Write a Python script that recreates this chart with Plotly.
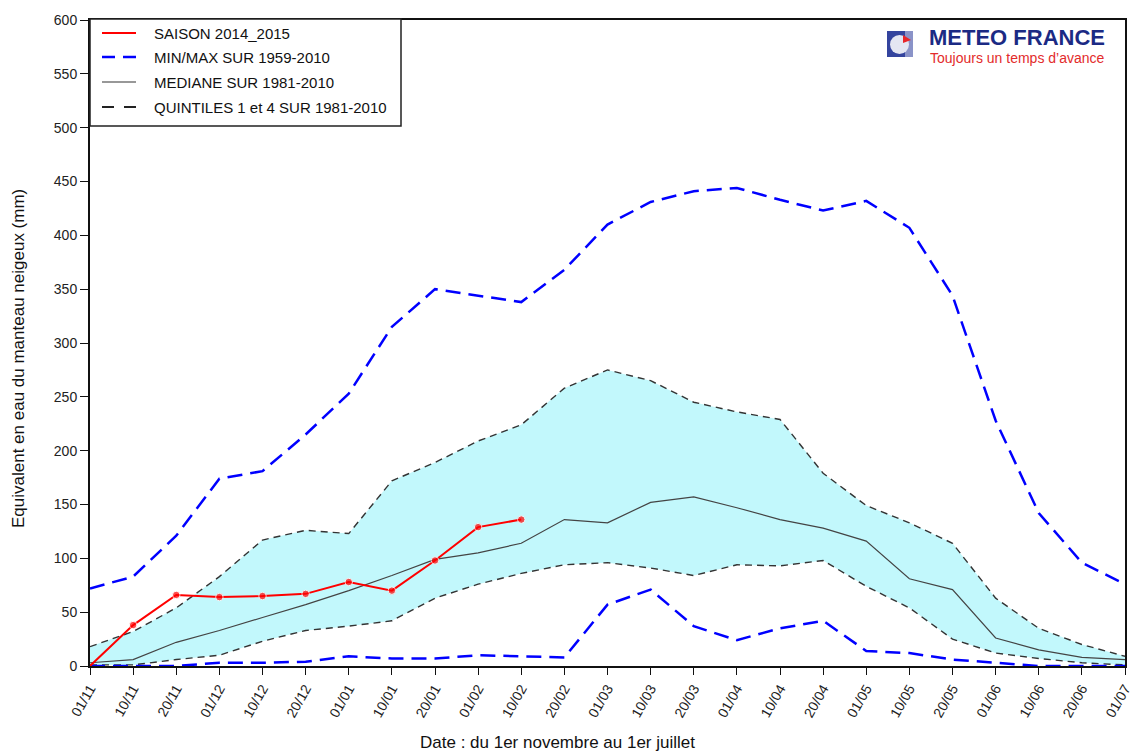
import plotly.graph_objects as go

dates = ["01/11", "10/11", "20/11", "01/12", "10/12", "20/12", "01/01", "10/01", "20/01",
         "01/02", "10/02", "20/02", "01/03", "10/03", "20/03", "01/04", "10/04", "20/04",
         "01/05", "10/05", "20/05", "01/06", "10/06", "20/06", "01/07"]

max_1959_2010 = [72, 83, 121, 174, 181, 215, 253, 315, 350, 344, 338, 368, 410, 431, 441,
                 444, 433, 423, 432, 407, 344, 228, 142, 96, 76]
min_1959_2010 = [0, 0, 0, 3, 3, 4, 9, 7, 7, 10, 9, 8, 57, 71, 37, 24, 35, 42, 14, 12, 6, 3,
                 0, 0, 0]
median_1981_2010 = [3, 6, 22, 33, 45, 57, 70, 84, 99, 105, 114, 136, 133, 152, 157, 147, 136,
                    128, 116, 81, 71, 26, 15, 8, 6]
quintile1 = [1, 1, 6, 10, 23, 33, 37, 42, 63, 76, 86, 94, 96, 91, 84, 94, 93, 98, 74, 54, 25,
             12, 7, 3, 1]
quintile4 = [18, 32, 54, 83, 117, 126, 123, 172, 189, 209, 224, 258, 275, 265, 245, 236, 229,
             179, 149, 133, 114, 63, 35, 20, 9]
saison_2014_2015 = [0, 38, 66, 64, 65, 67, 78, 70, 98, 129, 136]

legend_labels = ["SAISON 2014_2015", "MIN/MAX SUR 1959-2010", "MEDIANE SUR 1981-2010",
                 "QUINTILES 1 et 4 SUR 1981-2010"]

x = list(range(len(dates)))
FONT = "Liberation Sans, Arial, Helvetica, sans-serif"

# plot area in pixels
L, R, T, B = 90, 1125, 20, 666
W, H = R - L, B - T


def px(xp):
    return (xp - L) / W


def py(yp):
    return (B - yp) / H


fig = go.Figure()

# quintile band
fig.add_trace(go.Scatter(x=x, y=quintile1, mode="lines",
                         line=dict(color="#333333", width=1.4, dash="7px,5px"),
                         showlegend=False, hoverinfo="skip"))
fig.add_trace(go.Scatter(x=x, y=quintile4, mode="lines", fill="tonexty",
                         fillcolor="#c2f8fc",
                         line=dict(color="#333333", width=1.4, dash="7px,5px"),
                         showlegend=False, hoverinfo="skip"))
# median
fig.add_trace(go.Scatter(x=x, y=median_1981_2010, mode="lines",
                         line=dict(color="#444444", width=1.2), showlegend=False))
# min / max
fig.add_trace(go.Scatter(x=x, y=max_1959_2010, mode="lines",
                         line=dict(color="#0000ff", width=2.5, dash="15px,8px"),
                         showlegend=False))
fig.add_trace(go.Scatter(x=x, y=min_1959_2010, mode="lines",
                         line=dict(color="#0000ff", width=2.5, dash="15px,8px"),
                         showlegend=False))
# season
fig.add_trace(go.Scatter(x=x[:len(saison_2014_2015)], y=saison_2014_2015,
                         mode="lines+markers",
                         line=dict(color="#ff0000", width=2),
                         marker=dict(color="#ff0000",
                                     size=[0] + [7.5] * (len(saison_2014_2015) - 1)),
                         showlegend=False, cliponaxis=True))

shapes = []
annotations = []

# manual legend
shapes.append(dict(type="rect", xref="paper", yref="paper",
                   x0=px(90), x1=px(401), y0=py(126), y1=py(19),
                   line=dict(color="#222222", width=1.5), fillcolor="white", layer="above"))
leg_styles = [
    dict(color="#ff0000", width=2),
    dict(color="#0000ff", width=2.5, dash="13px,8px"),
    dict(color="#333333", width=1.2),
    dict(color="#222222", width=1.8, dash="12px,10px"),
]
rows = [33, 57, 82, 107]
for lab, st, ry in zip(legend_labels, leg_styles, rows):
    shapes.append(dict(type="line", xref="paper", yref="paper",
                       x0=px(102), x1=px(136), y0=py(ry), y1=py(ry),
                       line=st, layer="above"))
    annotations.append(dict(text=lab, xref="paper", yref="paper", x=px(152), y=py(ry),
                            xanchor="left", yanchor="middle", showarrow=False,
                            font=dict(family=FONT, size=15, color="#111111")))

# logo
shapes.append(dict(type="rect", xref="paper", yref="paper",
                   x0=px(887), x1=px(913), y0=py(57), y1=py(31),
                   line=dict(width=0), fillcolor="#34449e", layer="above"))
shapes.append(dict(type="rect", xref="paper", yref="paper",
                   x0=px(905), x1=px(913), y0=py(57), y1=py(31),
                   line=dict(width=0), fillcolor="#8a93c8", layer="above"))
shapes.append(dict(type="circle", xref="paper", yref="paper",
                   x0=px(890), x1=px(909), y0=py(54), y1=py(35),
                   line=dict(width=0), fillcolor="#e4e6f2", layer="above"))
shapes.append(dict(type="path", xref="paper", yref="paper",
                   path=f"M {px(903)},{py(35)} L {px(911)},{py(40)} L {px(903)},{py(43)} Z",
                   line=dict(width=0), fillcolor="#e8262a", layer="above"))
annotations.append(dict(text="<b>METEO FRANCE</b>", xref="paper", yref="paper",
                        x=px(928), y=py(38), xanchor="left", yanchor="middle",
                        showarrow=False, borderpad=0,
                        font=dict(family=FONT, size=22, color="#1b2a84")))
annotations.append(dict(text="Toujours un temps d\u2019avance", xref="paper", yref="paper",
                        x=px(929), y=py(57.5), xanchor="left", yanchor="middle",
                        showarrow=False, borderpad=0,
                        font=dict(family=FONT, size=14, color="#e32b2b")))

# axis titles
annotations.append(dict(text="Date : du 1er novembre au 1er juillet", xref="paper",
                        yref="paper", x=px(557), y=py(742), xanchor="center",
                        yanchor="middle", showarrow=False,
                        font=dict(family=FONT, size=17, color="#111111")))
annotations.append(dict(text="Equivalent en eau du manteau neigeux (mm)", xref="paper",
                        yref="paper", x=px(18), y=py(359), xanchor="center",
                        yanchor="middle", showarrow=False, textangle=-90,
                        font=dict(family=FONT, size=17, color="#111111")))

fig.update_layout(
    width=1143, height=753,
    margin=dict(l=L, r=1143 - R, t=T, b=753 - B, autoexpand=False),
    paper_bgcolor="white", plot_bgcolor="white",
    shapes=shapes, annotations=annotations,
    showlegend=False,
)
fig.update_xaxes(range=[0, 24], tickmode="array", tickvals=x, ticktext=dates,
                 tickangle=-60, ticks="outside", ticklen=7, tickwidth=1.2,
                 tickcolor="#111111", showgrid=False, zeroline=False,
                 showline=True, linecolor="#111111", linewidth=2, mirror=True,
                 tickfont=dict(family=FONT, size=14, color="#222222"))
fig.update_yaxes(range=[0, 600], tickmode="linear", tick0=0, dtick=50,
                 ticks="outside", ticklen=8, tickwidth=1.2, tickcolor="#111111",
                 showgrid=False, zeroline=False,
                 showline=True, linecolor="#111111", linewidth=2, mirror=True,
                 tickfont=dict(family=FONT, size=14, color="#222222"))

fig.write_html("out.html",
               config={"displayModeBar": False},
               post_script="document.body.style.margin='0px';"
                           "document.body.style.padding='0px';"
                           "document.body.style.overflow='hidden';")
